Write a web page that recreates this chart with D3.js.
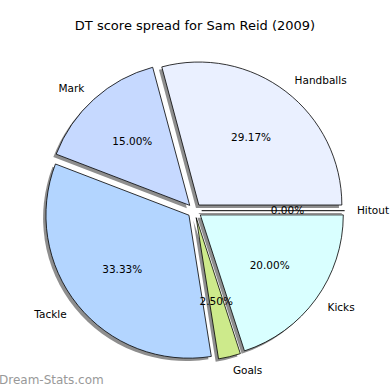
<!DOCTYPE html>
<html><head><meta charset="utf-8">
<script src="https://cdn.jsdelivr.net/npm/d3@7"></script>
<style>body{margin:0;background:#fff}svg{display:block}text{font-family:"DejaVu Sans",sans-serif}</style>
</head><body>
<script>
const categories = ["Handballs","Mark","Tackle","Goals","Kicks","Hitout"];
const values = [29.17,15.00,33.33,2.50,20.00,0.00];
const pctLabels = ["29.17%","15.00%","33.33%","2.50%","20.00%","0.00%"];
const colors = ["#eaf0ff","#c6d9ff","#b3d5ff","#cdea8b","#d9ffff","#ffffff"];
const title = "DT score spread for Sam Reid (2009)";

const W=390,H=390, cx=194.5, cy=210.7;
const rScale = d3.scaleLinear().domain([0,1]).range([0,143]);
const explode = 0.05, shadowOff = 0.02;

const svg = d3.select("body").append("svg").attr("width",W).attr("height",H);
svg.append("rect").attr("width",W).attr("height",H).attr("fill","#fff");

const data = categories.map((c,i)=>({cat:c,val:values[i],pct:pctLabels[i],color:colors[i]}));
const pie = d3.pie().sort(null).value(d=>d.val).startAngle(Math.PI/2).endAngle(Math.PI/2-2*Math.PI);
const arcs = pie(data);
const arc = d3.arc().innerRadius(0).outerRadius(rScale(1));

function mid(a){return (a.startAngle+a.endAngle)/2;}
function off(a,k){const m=mid(a);return [cx+rScale(k)*Math.sin(m), cy-rScale(k)*Math.cos(m)];}

const g = svg.append("g");
// shadows
arcs.forEach(a=>{
  const [x,y]=off(a,explode);
  const sx=x-rScale(shadowOff), sy=y+rScale(shadowOff);
  if(a.data.val===0){
    g.append("line").attr("x1",sx).attr("y1",sy).attr("x2",sx+rScale(1)*Math.sin(a.startAngle)).attr("y2",sy-rScale(1)*Math.cos(a.startAngle)).attr("stroke","#8e8e8e").attr("stroke-width",1);
  } else {
    g.append("path").attr("d",arc(a)).attr("transform",`translate(${sx},${sy})`).attr("fill","#8e8e8e");
  }
});
// wedges
arcs.forEach(a=>{
  const [x,y]=off(a,explode);
  if(a.data.val===0){
    g.append("line").attr("x1",x).attr("y1",y).attr("x2",x+rScale(1)*Math.sin(a.startAngle)).attr("y2",y-rScale(1)*Math.cos(a.startAngle)).attr("stroke","#000").attr("stroke-width",1);
  } else {
    g.append("path").attr("d",arc(a)).attr("transform",`translate(${x},${y})`).attr("fill",a.data.color).attr("stroke","#000").attr("stroke-width",0.8).attr("stroke-linejoin","round");
  }
});
// labels
arcs.forEach(a=>{
  const [x,y]=off(a,explode);
  const m=mid(a);
  const lx=x+rScale(1.1)*Math.sin(m), ly=y-rScale(1.1)*Math.cos(m);
  g.append("text").attr("x",lx-(a.data.val===0?2:0)).attr("y",ly).attr("dy","0.35em").attr("font-size",10.5)
    .attr("text-anchor",Math.sin(m)>=0?"start":"end").attr("fill","#000").text(a.data.cat);
  const px=x+rScale(0.6)*Math.sin(m), py=y-rScale(0.6)*Math.cos(m);
  g.append("text").attr("x",px).attr("y",py).attr("dy","0.35em").attr("font-size",10.5)
    .attr("text-anchor","middle").attr("fill","#000").text(a.data.pct);
});
svg.append("text").attr("x",195).attr("y",25).attr("dy","0.35em").attr("text-anchor","middle").attr("font-size",13).text(title);
svg.append("text").attr("x",-1).attr("y",380).attr("dy","0.35em").attr("font-size",12).attr("fill","#999").text("Dream-Stats.com");
</script>
</body></html>
